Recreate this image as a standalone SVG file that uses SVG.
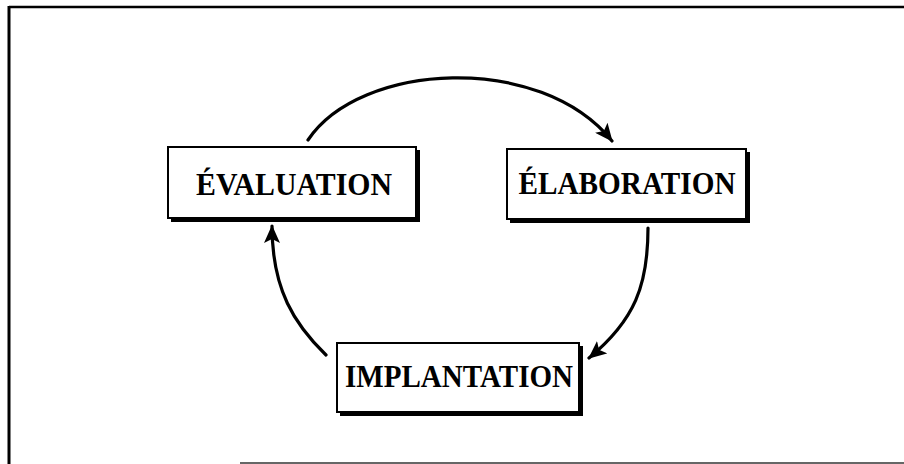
<svg xmlns="http://www.w3.org/2000/svg" width="904" height="464" viewBox="0 0 904 464">
<style>
.shadow{fill:#000}
.box{fill:#fff;stroke:#000;stroke-width:2}
.lbl{font-family:"Liberation Serif","Times New Roman",serif;font-weight:bold;font-size:32px;fill:#000;text-anchor:middle}
.arc{fill:none;stroke:#000;stroke-width:3.2;stroke-linecap:round}
</style>
<defs>
<marker id="ah" markerWidth="18" markerHeight="16" refX="17" refY="8" orient="auto" markerUnits="userSpaceOnUse">
<path d="M0,0 L18,8 L0,16 L4,8 Z" fill="#000"/>
</marker>
</defs>
<rect x="0" y="0" width="904" height="464" fill="#fff"/>
<g id="frame">
<line x1="9" y1="7" x2="904" y2="7" stroke="#000" stroke-width="2.5"/>
<line x1="9" y1="6" x2="9" y2="464" stroke="#000" stroke-width="3"/>
<line x1="240" y1="463" x2="904" y2="463" stroke="#666" stroke-width="2"/>
</g>
<g id="connectors">
<path class="arc" d="M308,140 C360,62 540,52 612,141" marker-end="url(#ah)"/>
<path class="arc" d="M648,228 C648,285 635,320 589,358" marker-end="url(#ah)"/>
<path class="arc" d="M326,355 C295,325 272,290 272,226" marker-end="url(#ah)"/>
</g>
<g id="evaluation">
<rect class="shadow" x="171" y="150" width="249" height="72"/>
<rect class="box" x="168" y="147" width="248" height="71"/>
<text class="lbl" x="294" y="195" textLength="196" lengthAdjust="spacingAndGlyphs">ÉVALUATION</text>
</g>
<g id="elaboration">
<rect class="shadow" x="510" y="152" width="240" height="71"/>
<rect class="box" x="507" y="149" width="239" height="70"/>
<text class="lbl" x="627" y="194" textLength="217" lengthAdjust="spacingAndGlyphs">ÉLABORATION</text>
</g>
<g id="implantation">
<rect class="shadow" x="340" y="346" width="243" height="70"/>
<rect class="box" x="337" y="343" width="242" height="69"/>
<text class="lbl" x="459" y="387" textLength="228" lengthAdjust="spacingAndGlyphs">IMPLANTATION</text>
</g>
</svg>
